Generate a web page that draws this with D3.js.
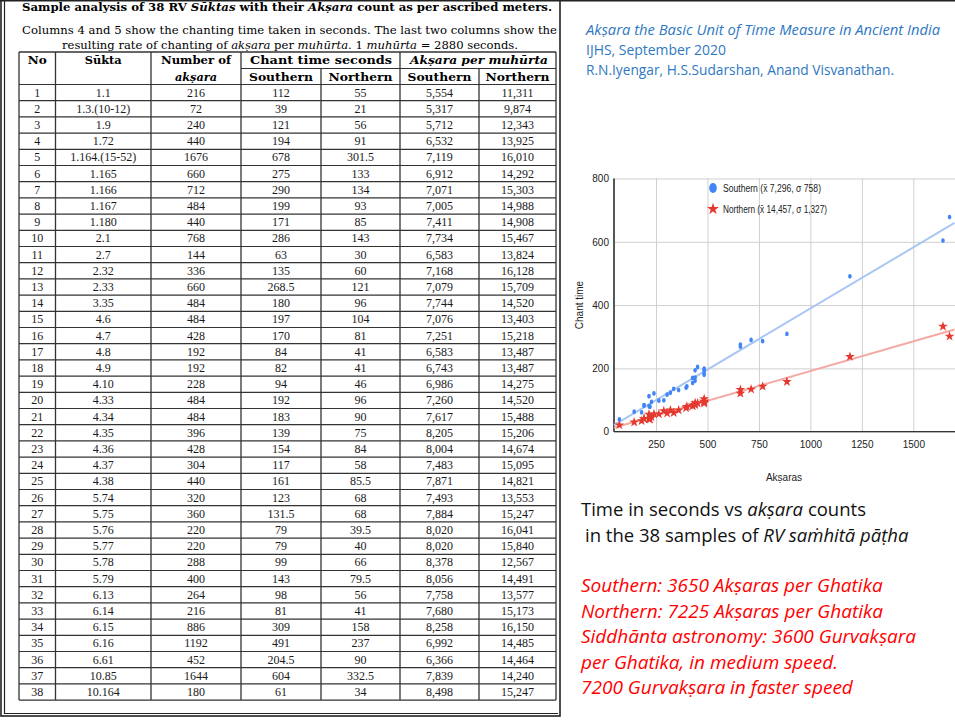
<!DOCTYPE html>
<html>
<head>
<meta charset="utf-8">
<script src="https://cdn.jsdelivr.net/npm/d3@7"></script>
<style>
  body { margin: 0; background: #fff; }
  svg { display: block; }
</style>
</head>
<body>
<svg id="slide" width="955" height="720"></svg>
<script>
// table data
const rowNo = [1,2,3,4,5,6,7,8,9,10,11,12,13,14,15,16,17,18,19,20,21,22,23,24,25,26,27,28,29,30,31,32,33,34,35,36,37,38];
const sukta = ["1.1","1.3.(10-12)","1.9","1.72","1.164.(15-52)","1.165","1.166","1.167","1.180","2.1","2.7","2.32","2.33","3.35","4.6","4.7","4.8","4.9","4.10","4.33","4.34","4.35","4.36","4.37","4.38","5.74","5.75","5.76","5.77","5.78","5.79","6.13","6.14","6.15","6.16","6.61","10.85","10.164"];
const aksara = [216,72,240,440,1676,660,712,484,440,768,144,336,660,484,484,428,192,192,228,484,484,396,428,304,440,320,360,220,220,288,400,264,216,886,1192,452,1644,180];
const southTime = [112,39,121,194,678,275,290,199,171,286,63,135,268.5,180,197,170,84,82,94,192,183,139,154,117,161,123,131.5,79,79,99,143,98,81,309,491,204.5,604,61];
const northTime = [55,21,56,91,301.5,133,134,93,85,143,30,60,121,96,104,81,41,41,46,96,90,75,84,58,85.5,68,68,39.5,40,66,79.5,56,41,158,237,90,332.5,34];
const southRate = ["5,554","5,317","5,712","6,532","7,119","6,912","7,071","7,005","7,411","7,734","6,583","7,168","7,079","7,744","7,076","7,251","6,583","6,743","6,986","7,260","7,617","8,205","8,004","7,483","7,871","7,493","7,884","8,020","8,020","8,378","8,056","7,758","7,680","8,258","6,992","6,366","7,839","8,498"];
const northRate = ["11,311","9,874","12,343","13,925","16,010","14,292","15,303","14,988","14,908","15,467","13,824","16,128","15,709","14,520","13,403","15,218","13,487","13,487","14,275","14,520","15,488","15,206","14,674","15,095","14,821","13,553","15,247","16,041","15,840","12,567","14,491","13,577","15,173","16,150","14,485","14,464","14,240","15,247"];

// chart ticks and legend
const xTicks = [250, 500, 750, 1000, 1250, 1500];
const yTicks = [0, 200, 400, 600, 800];
const legendLabels = ["Southern (x\u0304 7,296, \u03c3 758)", "Northern (x\u0304 14,457, \u03c3 1,327)"];

const svg = d3.select("#slide");
const serif = "'DejaVu Serif', 'Liberation Serif', serif";
const tableSerif = "'Liberation Serif', serif";
const narrow = "'Liberation Sans Narrow', 'Arial Narrow', 'Liberation Sans', sans-serif";
const sans = "'Open Sans', 'Noto Sans', sans-serif";

// ---------- left panel: frame + captions ----------
svg.append("line").attr("x1", 0).attr("x2", 955).attr("y1", 0.5).attr("y2", 0.5)
   .attr("stroke", "#222").attr("stroke-width", 2);
svg.append("rect").attr("x", 1).attr("y", 0).attr("width", 559).attr("height", 716)
   .attr("fill", "none").attr("stroke", "#222").attr("stroke-width", 1.6);
svg.append("line").attr("x1", 4.5).attr("x2", 4.5).attr("y1", 0).attr("y2", 714)
   .attr("stroke", "#222").attr("stroke-width", 1.2);
svg.append("line").attr("x1", 4).attr("x2", 558).attr("y1", 713.5).attr("y2", 713.5)
   .attr("stroke", "#222").attr("stroke-width", 1.2);

const cap1 = svg.append("text").attr("x", 22).attr("y", 11)
  .attr("font-family", serif).attr("font-size", 11.5).attr("font-weight", "bold")
  .attr("textLength", 530).attr("lengthAdjust", "spacingAndGlyphs");
cap1.append("tspan").text("Sample analysis of 38 RV ");
cap1.append("tspan").attr("font-style", "italic").text("S\u016bktas");
cap1.append("tspan").text(" with their ");
cap1.append("tspan").attr("font-style", "italic").text("Ak\u1e63ara");
cap1.append("tspan").text(" count as per ascribed meters.");

svg.append("text").attr("x", 22).attr("y", 34)
  .attr("font-family", serif).attr("font-size", 11)
  .attr("textLength", 535).attr("lengthAdjust", "spacingAndGlyphs")
  .text("Columns 4 and 5 show the chanting time taken in seconds. The last two columns show the");

const cap3 = svg.append("text").attr("x", 62).attr("y", 49)
  .attr("font-family", serif).attr("font-size", 11)
  .attr("textLength", 456).attr("lengthAdjust", "spacingAndGlyphs");
cap3.append("tspan").text("resulting rate of chanting of ");
cap3.append("tspan").attr("font-style", "italic").text("ak\u1e63ara");
cap3.append("tspan").text(" per ");
cap3.append("tspan").attr("font-style", "italic").text("muh\u016brta");
cap3.append("tspan").text(". 1 ");
cap3.append("tspan").attr("font-style", "italic").text("muh\u016brta");
cap3.append("tspan").text(" = 2880 seconds.");

// ---------- table ----------
const colEdges = [19, 55.5, 151, 241, 321, 400, 479, 556];
const headTop = 52, headMid = 68.5, headBottom = 84.5, rowH = 16.2;
const colMid = i => (colEdges[i] + colEdges[i + 1]) / 2;
const tableBottom = headBottom + rowNo.length * rowH;
const lineCol = "#333";

const tbl = svg.append("g");
// horizontal rules
tbl.append("line").attr("x1", colEdges[0]).attr("x2", colEdges[7]).attr("y1", headTop).attr("y2", headTop)
   .attr("stroke", lineCol).attr("stroke-width", 1.4);
tbl.append("line").attr("x1", colEdges[3]).attr("x2", colEdges[7]).attr("y1", headMid).attr("y2", headMid)
   .attr("stroke", lineCol).attr("stroke-width", 1.2);
tbl.selectAll("line.row")
  .data(d3.range(rowNo.length + 1))
  .join("line").attr("class", "row")
  .attr("x1", colEdges[0]).attr("x2", colEdges[7])
  .attr("y1", i => headBottom + i * rowH).attr("y2", i => headBottom + i * rowH)
  .attr("stroke", lineCol).attr("stroke-width", 1.2);
// vertical rules
tbl.selectAll("line.col")
  .data(colEdges)
  .join("line").attr("class", "col")
  .attr("x1", d => d).attr("x2", d => d)
  .attr("y1", (d, i) => (i === 4 || i === 6) ? headMid : headTop)
  .attr("y2", tableBottom)
  .attr("stroke", lineCol).attr("stroke-width", 1.3);

// header text (width = span measured on the slide)
const head = (x, y, w, parts) => {
  const t = tbl.append("text").attr("x", x).attr("y", y).attr("text-anchor", "middle")
    .attr("font-family", serif).attr("font-size", 11).attr("font-weight", "bold")
    .attr("textLength", w).attr("lengthAdjust", "spacingAndGlyphs");
  parts.forEach(p => t.append("tspan").attr("font-style", p[1] ? "italic" : null).text(p[0]));
};
head(colMid(0), 64, 19, [["No"]]);
head(colMid(1), 64, 37, [["S\u016bkta"]]);
head(colMid(2), 64, 70, [["Number of"]]);
head(colMid(2), 80.5, 42, [["ak\u1e63ara", true]]);
head(colEdges[4], 64, 142, [["Chant time seconds"]]);
head(colMid(3), 80.5, 64, [["Southern"]]);
head(colMid(4), 80.5, 64, [["Northern"]]);
head(colEdges[6], 64, 138, [["Ak\u1e63ara per muh\u016brta", true]]);
head(colMid(5), 80.5, 64, [["Southern"]]);
head(colMid(6), 80.5, 64, [["Northern"]]);

// body rows
const columns = [rowNo, sukta, aksara, southTime, northTime, southRate, northRate];
columns.forEach((col, ci) => {
  tbl.append("g").selectAll("text")
    .data(col)
    .join("text")
    .attr("x", colMid(ci))
    .attr("y", (d, i) => headBottom + i * rowH + rowH / 2 + 4)
    .attr("text-anchor", "middle")
    .attr("font-family", tableSerif).attr("font-size", 12).attr("fill", "#1a1a1a")
    .text(d => d);
});

// ---------- reference text, top right ----------
const blue = "#2f78c2";
svg.append("text").attr("x", 586).attr("y", 35).attr("fill", blue)
  .attr("font-family", sans).attr("font-size", 14).attr("font-style", "italic")
  .attr("textLength", 354).attr("lengthAdjust", "spacingAndGlyphs")
  .text("Ak\u1e63ara the Basic Unit of Time Measure in Ancient India");
svg.append("text").attr("x", 586).attr("y", 55).attr("fill", blue)
  .attr("font-family", sans).attr("font-size", 14)
  .attr("textLength", 140).attr("lengthAdjust", "spacingAndGlyphs")
  .text("IJHS, September 2020");
svg.append("text").attr("x", 586).attr("y", 75).attr("fill", blue)
  .attr("font-family", sans).attr("font-size", 14)
  .attr("textLength", 308).attr("lengthAdjust", "spacingAndGlyphs")
  .text("R.N.Iyengar, H.S.Sudarshan, Anand Visvanathan.");

// ---------- scatter chart ----------
const x = d3.scaleLinear().domain([46, 1700]).range([614, 954.5]);
const y = d3.scaleLinear().domain([0, 800]).range([431.7, 178.5]);

const chart = svg.append("g");

chart.append("g")
  .attr("transform", "translate(614,0)")
  .call(d3.axisLeft(y).tickValues(yTicks).tickSize(-(955 - 614)).tickPadding(5).tickFormat(d3.format("d")))
  .call(g => g.select(".domain").remove())
  .call(g => g.selectAll(".tick line").attr("stroke", "#cfcfcf"))
  .call(g => g.selectAll(".tick text").attr("font-family", narrow).attr("font-size", 10).attr("fill", "#222"));

chart.append("g").attr("transform", "translate(0,431.7)")
  .call(d3.axisBottom(x).tickValues(xTicks).tickSize(-(431.7 - 178.5)).tickPadding(9).tickFormat(d3.format("d")))
  .call(g => g.select(".domain").remove())
  .call(g => g.selectAll(".tick line").attr("stroke", "#cfcfcf"))
  .call(g => g.selectAll(".tick text").attr("font-family", narrow).attr("font-size", 10).attr("fill", "#222"));

// axis lines
chart.append("line").attr("x1", 614).attr("x2", 614).attr("y1", y(800)).attr("y2", y(0))
  .attr("stroke", "#111").attr("stroke-width", 1.4);
chart.append("line").attr("x1", 614).attr("x2", 955).attr("y1", y(0)).attr("y2", y(0))
  .attr("stroke", "#333").attr("stroke-width", 1.2);

// least-squares trendlines from the data
function fit(xs, ys) {
  const mx = d3.mean(xs), my = d3.mean(ys);
  const b = d3.sum(xs, (v, i) => (v - mx) * (ys[i] - my)) / d3.sum(xs, v => (v - mx) * (v - mx));
  return { b, a: my - b * mx };
}
const southFit = fit(aksara, southTime), northFit = fit(aksara, northTime);
const [x0, x1] = x.domain();
chart.append("line")
  .attr("x1", x(x0)).attr("y1", y(southFit.a + southFit.b * x0))
  .attr("x2", x(x1)).attr("y2", y(southFit.a + southFit.b * x1))
  .attr("stroke", "#a9c6f5").attr("stroke-width", 2);
chart.append("line")
  .attr("x1", x(x0)).attr("y1", y(northFit.a + northFit.b * x0))
  .attr("x2", x(x1)).attr("y2", y(northFit.a + northFit.b * x1))
  .attr("stroke", "#f4a9a3").attr("stroke-width", 2);

// points
chart.append("g").selectAll("ellipse")
  .data(aksara)
  .join("ellipse")
  .attr("cx", d => x(d)).attr("cy", (d, i) => y(southTime[i]))
  .attr("rx", 1.8).attr("ry", 2.4)
  .attr("fill", "#4285f4");

const star = d3.symbol(d3.symbolStar).size(30);
chart.append("g").selectAll("path")
  .data(aksara)
  .join("path")
  .attr("transform", (d, i) => `translate(${x(d)},${y(northTime[i])})`)
  .attr("d", star)
  .attr("fill", "#e5392f");

// legend
chart.append("ellipse").attr("cx", 713).attr("cy", 188).attr("rx", 3.8).attr("ry", 5).attr("fill", "#4285f4");
chart.append("path").attr("transform", "translate(713,209)")
  .attr("d", d3.symbol(d3.symbolStar).size(45)).attr("fill", "#e5392f");
const legendWidths = [98, 104];
chart.append("g").selectAll("text")
  .data(legendLabels)
  .join("text")
  .attr("x", 723).attr("y", (d, i) => 191.5 + i * 21)
  .attr("font-family", narrow).attr("font-size", 10).attr("fill", "#222")
  .attr("textLength", (d, i) => legendWidths[i]).attr("lengthAdjust", "spacingAndGlyphs")
  .text(d => d);

// axis titles
chart.append("text")
  .attr("transform", "translate(583,305) rotate(-90)")
  .attr("text-anchor", "middle")
  .attr("font-family", narrow).attr("font-size", 10).attr("fill", "#222")
  .text("Chant time");
chart.append("text")
  .attr("x", 784).attr("y", 481).attr("text-anchor", "middle")
  .attr("font-family", narrow).attr("font-size", 10).attr("fill", "#222")
  .text("Ak\u1e63aras");

// ---------- notes, bottom right ----------
const note1 = svg.append("text").attr("x", 581).attr("y", 516)
  .attr("font-family", sans).attr("font-size", 18.5).attr("fill", "#111");
note1.append("tspan").text("Time in seconds vs ");
note1.append("tspan").attr("font-style", "italic").text("ak\u1e63ara");
note1.append("tspan").text(" counts");

const note2 = svg.append("text").attr("x", 585).attr("y", 542)
  .attr("font-family", sans).attr("font-size", 18.5).attr("fill", "#111");
note2.append("tspan").text("in the 38 samples of ");
note2.append("tspan").attr("font-style", "italic").text("RV sa\u1e41hit\u0101 p\u0101\u1e6dha");

const redNotes = [
  "Southern: 3650 Ak\u1e63aras per Ghatika",
  "Northern: 7225 Ak\u1e63aras per Ghatika",
  "Siddh\u0101nta astronomy: 3600 Gurvak\u1e63ara",
  "per Ghatika, in medium speed.",
  "7200 Gurvak\u1e63ara in faster speed"
];
svg.append("g").selectAll("text")
  .data(redNotes)
  .join("text")
  .attr("x", 581).attr("y", (d, i) => 592 + i * 25.6)
  .attr("font-family", sans).attr("font-size", 19).attr("font-style", "italic")
  .attr("fill", "#ff0000")
  .text(d => d);
</script>
</body>
</html>
